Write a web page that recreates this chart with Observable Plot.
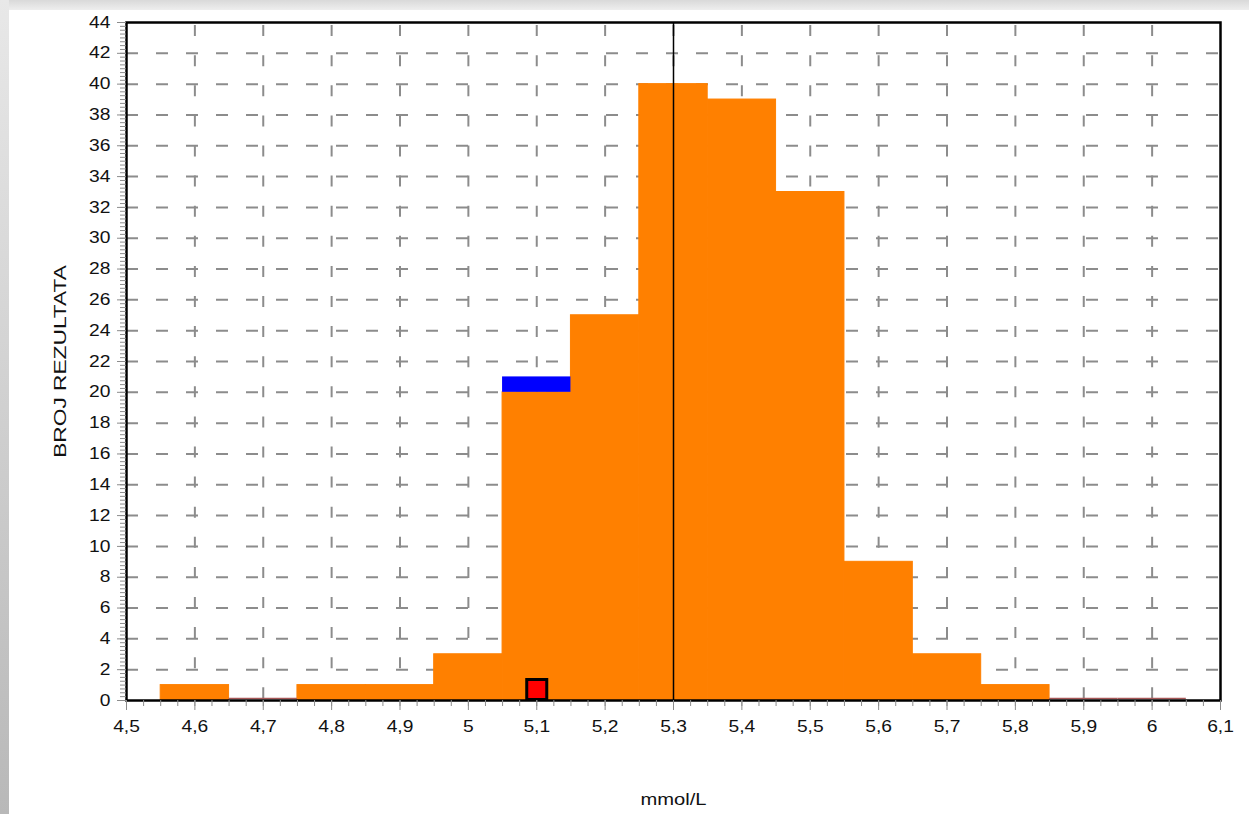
<!DOCTYPE html>
<html>
<head>
<meta charset="utf-8">
<script src="https://cdn.jsdelivr.net/npm/d3@7"></script>
<script src="https://cdn.jsdelivr.net/npm/@observablehq/plot@0.6"></script>
<style>
  html, body { margin: 0; padding: 0; background: #fff; width: 1249px; height: 814px; overflow: hidden; }
  #topstrip { position: absolute; left: 0; top: 0; width: 1249px; height: 10px; background: linear-gradient(#d9d9d9, #eeeeee); }
  #leftstrip { position: absolute; left: 0; top: 0; width: 9px; height: 814px; background: linear-gradient(to bottom, #e8e8e8, #b8b8b8); }
  #chart { position: absolute; left: 0; top: 0; }
  #chart svg { background: transparent; }
</style>
</head>
<body>
<div id="topstrip"></div>
<div id="leftstrip"></div>
<div id="chart"></div>
<script>
// ---- data ----
const binLo  = [4.55, 4.65, 4.75, 4.85, 4.95, 5.05, 5.15, 5.25, 5.35, 5.45, 5.55, 5.65, 5.75, 5.85, 5.95];
const binHi  = [4.65, 4.75, 4.85, 4.95, 5.05, 5.15, 5.25, 5.35, 5.45, 5.55, 5.65, 5.75, 5.85, 5.95, 6.05];
const counts = [1, 0, 1, 1, 3, 20, 25, 40, 39, 33, 9, 3, 1, 0, 0];
const highlightBin = [5.05, 5.15];
const highlightRange = [20, 21];
const meanValue = 5.3;
const resultValue = 5.1;
const xTicks = [4.5, 4.6, 4.7, 4.8, 4.9, 5.0, 5.1, 5.2, 5.3, 5.4, 5.5, 5.6, 5.7, 5.8, 5.9, 6.0, 6.1];
const yTicks = [0, 2, 4, 6, 8, 10, 12, 14, 16, 18, 20, 22, 24, 26, 28, 30, 32, 34, 36, 38, 40, 42, 44];
const xLabel = "mmol/L";
const yLabel = "BROJ REZULTATA";

// ---- derived tables ----
const bins = binLo.map((lo, i) => ({lo, hi: binHi[i], count: counts[i]}));
const highlight = [{lo: highlightBin[0], hi: highlightBin[1], from: highlightRange[0], to: highlightRange[1]}];
const xMinor = d3.range(0, 65).map(i => +(4.5 + i * 0.025).toFixed(3));
const yMinor = d3.range(0, 177).map(i => i * 0.25);
const fmt = d => String(+d.toFixed(2)).replace(".", ",");
const none = () => "";
const grid = "#8c8c8c";

const chart = Plot.plot({
  width: 1249,
  height: 814,
  marginLeft: 126,
  marginRight: 29,
  marginTop: 22,
  marginBottom: 114,
  style: {fontFamily: "'Liberation Sans', Arial, sans-serif", fontSize: "16px", background: "transparent", color: "#000", overflow: "visible"},
  x: {domain: [4.5, 6.1], axis: null},
  y: {domain: [0, 44], axis: null},
  marks: [
    Plot.ruleY(yTicks.filter(d => d > 0 && d < 44), {stroke: grid, strokeWidth: 2, strokeDasharray: "12,18"}),
    Plot.ruleX(xTicks.filter(d => d > 4.5 && d < 6.1), {stroke: grid, strokeWidth: 2, strokeDasharray: "11,19.1", strokeDashoffset: 27}),
    Plot.rect(bins.filter(d => d.count > 0), {x1: "lo", x2: "hi", y1: 0, y2: "count", fill: "#FF8000", stroke: "#FF8000", strokeWidth: 1}),
    Plot.ruleY(bins.filter(d => d.count === 0), {x1: "lo", x2: "hi", y: 0, dy: -2, stroke: "#a85858", strokeWidth: 1.5}),
    Plot.rect(highlight, {x1: "lo", x2: "hi", y1: "from", y2: "to", fill: "#0000FF"}),
    Plot.ruleX([meanValue], {stroke: "black", strokeWidth: 1.5}),
    Plot.dot([resultValue], {x: d => d, y: () => 0, symbol: "square", r: 11.3, dy: -11, fill: "#FF0000", stroke: "black", strokeWidth: 3}),
    Plot.frame({stroke: "black", strokeWidth: 2.5}),
    Plot.axisY({ticks: yMinor, tickSize: 6, tickFormat: none, label: null, stroke: grid}),
    Plot.axisY({ticks: yTicks, tickSize: 9, tickPadding: 7, tickFormat: fmt, stroke: grid, fill: "#111",
      label: yLabel, labelAnchor: "center", labelOffset: 72, labelArrow: "none"}),
    Plot.axisX({ticks: xMinor, tickSize: 6, tickFormat: none, label: null, stroke: grid}),
    Plot.axisX({ticks: xTicks, tickSize: 10, tickPadding: 10, tickFormat: fmt, stroke: grid, fill: "#111",
      label: xLabel, labelAnchor: "center", labelOffset: 104, labelArrow: "none"})
  ]
});
document.getElementById("chart").appendChild(chart);

// widen glyphs horizontally to match the reference's wide lettering
chart.querySelectorAll("text").forEach(t => {
  const len = t.getComputedTextLength();
  if (len > 0) {
    const s = t.textContent;
    const k = s === yLabel ? 1.42 : s === xLabel ? 1.26 : 1.2;
    t.setAttribute("textLength", (len * k).toFixed(1));
    t.setAttribute("lengthAdjust", "spacingAndGlyphs");
  }
});
</script>
</body>
</html>
